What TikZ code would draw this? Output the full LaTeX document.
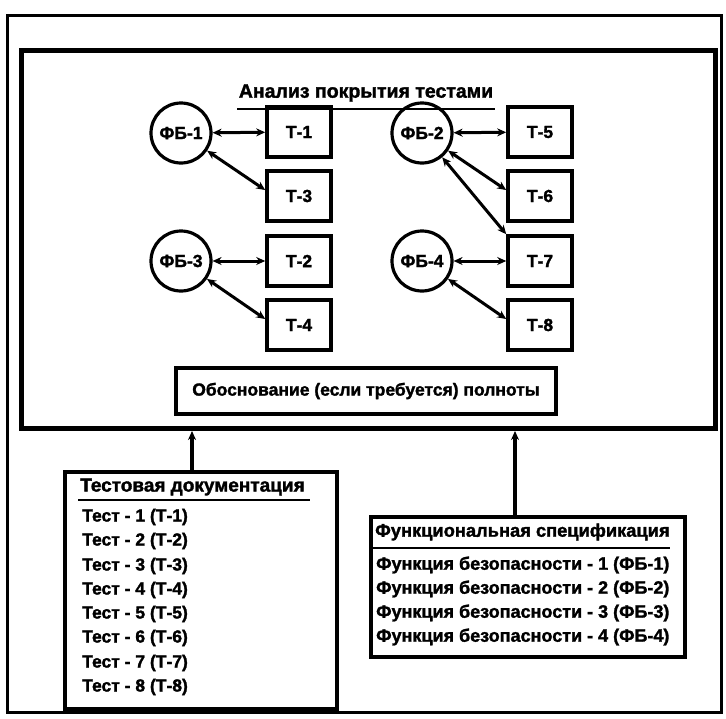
\documentclass[tikz,border=0pt]{standalone}
\usepackage{fontspec}
\setmainfont{Liberation Sans}[BoldFeatures={FakeBold=1.6}]
\usetikzlibrary{arrows.meta}
\begin{document}
\begin{tikzpicture}[x=1pt,y=-1pt,
  every node/.style={font=\bfseries\fontsize{17.5}{20}\selectfont},
  fb/.style={circle, draw, line width=3.2pt, minimum size=60pt, inner sep=0pt},
  tbox/.style={draw, line width=3.6pt, minimum width=64pt, minimum height=50pt, inner sep=0pt},
  arr/.style={line width=3pt, {Stealth[length=9pt,width=8pt]}-{Stealth[length=9pt,width=8pt]}},
  uparr/.style={line width=3.2pt, -{Stealth[length=9pt,width=8pt]}},
  listtxt/.style={anchor=west, inner sep=0pt},
  frame/.style={draw, line width=3.6pt, inner sep=0pt},
  headtxt/.style={listtxt, font=\bfseries\fontsize{19}{20}\selectfont}
]
\useasboundingbox (0,0) rectangle (726,718);
\fill[white] (0,0) rectangle (726,718);
% outer frame
\draw[line width=3pt] (7,15) rectangle (721,712);
% inner frame
\node[frame, line width=5pt, minimum width=694pt, minimum height=378pt, anchor=north west] (inner) at (19,48) {};
% title
\node[inner sep=0pt, font=\bfseries\fontsize{19.5}{20}\selectfont] (title) at (366,93) {Анализ покрытия тестами};
\draw[line width=2.2pt] (237,109) -- (495,109);
% circles
\node[fb] (f1) at (181,133) {ФБ-1};
\node[fb] (f3) at (181,261) {ФБ-3};
\node[fb] (f2) at (422,133) {ФБ-2};
\node[fb] (f4) at (422,261) {ФБ-4};
% boxes
\node[tbox] (t1) at (299,132) {Т-1};
\node[tbox] (t3) at (299,196) {Т-3};
\node[tbox] (t2) at (299,261) {Т-2};
\node[tbox] (t4) at (299,325) {Т-4};
\node[tbox] (t5) at (540,132) {Т-5};
\node[tbox] (t6) at (540,196) {Т-6};
\node[tbox] (t7) at (540,261) {Т-7};
\node[tbox] (t8) at (540,325) {Т-8};
% connectors
\draw[arr] (f1) -- (t1);
\draw[arr] (f1) -- (t3.170);
\draw[arr] (f3) -- (t2);
\draw[arr] (f3) -- (t4.170);
\draw[arr] (f2) -- (t5);
\draw[arr] (f2) -- (t6.170);
\draw[arr] (f2) -- (t7.north west);
\draw[arr] (f4) -- (t7);
\draw[arr] (f4) -- (t8.170);
% justification box
\node[frame, minimum width=380pt, minimum height=46pt] (just) at (366,391) {Обоснование (если требуется) полноты};
% test documentation
\node[frame, minimum width=272pt, minimum height=237pt, anchor=north west] (tdoc) at (63,470) {};
\node[headtxt] (tdh) at (80,487) {Тестовая документация};
\draw[line width=2.2pt] (78,500) -- (310,500);
\node[listtxt] (td1) at (82,517) {Тест - 1 (Т-1)};
\node[listtxt] (td2) at (82,541) {Тест - 2 (Т-2)};
\node[listtxt] (td3) at (82,566) {Тест - 3 (Т-3)};
\node[listtxt] (td4) at (82,590) {Тест - 4 (Т-4)};
\node[listtxt] (td5) at (82,614) {Тест - 5 (Т-5)};
\node[listtxt] (td6) at (82,638) {Тест - 6 (Т-6)};
\node[listtxt] (td7) at (82,663) {Тест - 7 (Т-7)};
\node[listtxt] (td8) at (82,687) {Тест - 8 (Т-8)};
% functional specification
\node[frame, minimum width=314pt, minimum height=140pt, anchor=north west] (fspec) at (369,515) {};
\node[headtxt, font=\bfseries\fontsize{18.3}{20}\selectfont] (fsh) at (375,532) {Функциональная спецификация};
\draw[line width=2.2pt] (373,548) -- (670,548);
\node[listtxt, font=\bfseries\fontsize{18}{20}\selectfont] (fs1) at (376,565) {Функция безопасности - 1 (ФБ-1)};
\node[listtxt, font=\bfseries\fontsize{18}{20}\selectfont] (fs2) at (376,589) {Функция безопасности - 2 (ФБ-2)};
\node[listtxt, font=\bfseries\fontsize{18}{20}\selectfont] (fs3) at (376,613) {Функция безопасности - 3 (ФБ-3)};
\node[listtxt, font=\bfseries\fontsize{18}{20}\selectfont] (fs4) at (376,637) {Функция безопасности - 4 (ФБ-4)};
% arrows to frame
\coordinate (a1) at (192,426);
\coordinate (a2) at (515,426);
\draw[uparr] (a1 |- tdoc.north) -- (a1 |- inner.south);
\draw[uparr] (a2 |- fspec.north) -- (a2 |- inner.south);
\end{tikzpicture}
\end{document}
